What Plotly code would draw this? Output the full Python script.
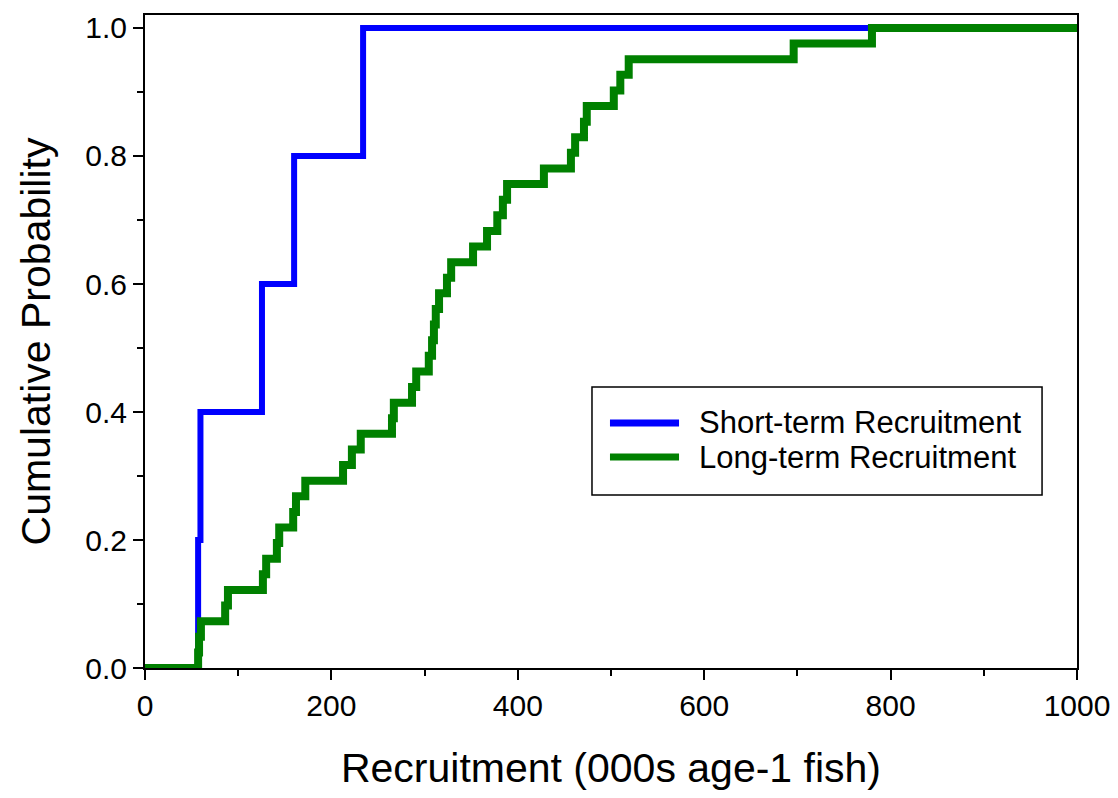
import numpy as np
import plotly.graph_objects as go

# Recruitment estimates (000s age-1 fish), sorted ascending
short_term = [57, 59.5, 125.5, 160, 234]
long_term = [57, 58, 60, 86, 89, 126.5, 130, 141.5, 144, 159, 162, 172,
             212.5, 222, 231.5, 265, 267, 286.5, 291, 304.5, 308, 310,
             312, 315.5, 324, 328.5, 352, 367, 378, 384, 388.5, 428,
             457, 461.5, 471, 474, 503, 510, 519, 696, 780]

series_names = ["Short-term Recruitment", "Long-term Recruitment"]
series_colors = ["#0000FF", "#008000"]
series_widths = [6, 8]

x_min, x_max = 0, 1000


def ecdf_steps(values):
    """Cumulative probability step coordinates spanning the full x range."""
    v = np.sort(np.asarray(values, dtype=float))
    n = len(v)
    xs = [x_min] + v.tolist() + [x_max]
    ys = [0.0] + [(i + 1) / n for i in range(n)] + [1.0]
    return xs, ys


fig = go.Figure()

for values, name, color, width in zip([short_term, long_term], series_names,
                                      series_colors, series_widths):
    xs, ys = ecdf_steps(values)
    fig.add_trace(go.Scatter(x=xs, y=ys, mode="lines", line_shape="hv",
                             name=name, showlegend=False,
                             line=dict(color=color, width=width)))

font_family = "Liberation Sans, Arial, sans-serif"

# Boxed key in the lower right of the plotting area
key_box = dict(x0=0.4796, x1=0.9625, y0=0.2649, y1=0.4303)
key_rows_y = [0.3752, 0.3231]
key_line_x = (0.4989, 0.5730)
key_text_x = 0.5923

shapes = [dict(type="rect", xref="paper", yref="paper", **key_box,
               line=dict(color="black", width=1.5), fillcolor="white",
               layer="above")]
annotations = []
for name, color, y in zip(series_names, series_colors, key_rows_y):
    shapes.append(dict(type="line", xref="paper", yref="paper",
                       x0=key_line_x[0], x1=key_line_x[1], y0=y, y1=y,
                       line=dict(color=color, width=7), layer="above"))
    annotations.append(dict(xref="paper", yref="paper", x=key_text_x, y=y,
                            xanchor="left", yanchor="middle", showarrow=False,
                            text=name,
                            font=dict(size=31, family=font_family,
                                      color="black")))

fig.update_layout(
    width=1118, height=798,
    margin=dict(l=145, r=41, t=15, b=130),
    plot_bgcolor="white", paper_bgcolor="white",
    font=dict(family=font_family, color="black"),
    showlegend=False,
    shapes=shapes,
    annotations=annotations,
)

fig.update_xaxes(
    range=[x_min, x_max], dtick=200, tick0=0, automargin=False,
    showline=True, linecolor="black", linewidth=2, mirror=True,
    showgrid=False, zeroline=False,
    ticks="outside", ticklen=10, tickwidth=1.5, tickcolor="black",
    minor=dict(ticks="outside", ticklen=6, dtick=100, tickwidth=1.5,
               tickcolor="black", showgrid=False),
    tickfont=dict(size=30, family=font_family),
    title=dict(text="Recruitment (000s age-1 fish)",
               font=dict(size=41, family=font_family), standoff=32),
)

fig.update_yaxes(
    range=[0, 1.0203], dtick=0.2, tick0=0, tickformat=".1f", automargin=False,
    showline=True, linecolor="black", linewidth=2, mirror=True,
    showgrid=False, zeroline=False,
    ticks="outside", ticklen=10, tickwidth=1.5, tickcolor="black",
    minor=dict(ticks="outside", ticklen=6, dtick=0.1, tickwidth=1.5,
               tickcolor="black", showgrid=False),
    tickfont=dict(size=30, family=font_family),
    title=dict(text="Cumulative Probability",
               font=dict(size=41, family=font_family), standoff=22),
)

fig.write_html("out.html")
